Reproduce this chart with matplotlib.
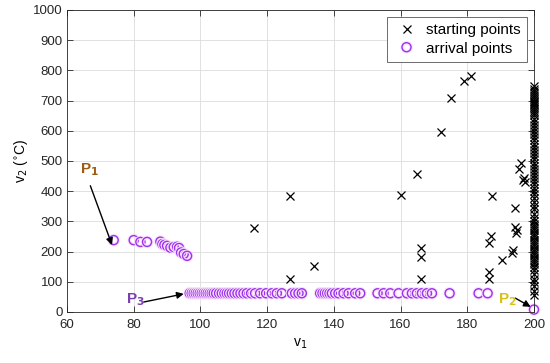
import numpy as np
import matplotlib.pyplot as plt
import matplotlib.patheffects as pe

plt.rcParams['font.family'] = ['Liberation Sans', 'DejaVu Sans']

# starting points (black x)
start_v1 = [116, 127, 127, 134, 160, 165, 166, 166, 166, 172, 175, 179, 181,
            186.5, 186.5, 186.5, 187, 187.4, 190.5, 193.3, 193.6, 194.4, 194.4,
            194.6, 195, 195.4, 196, 196.6, 197, 197.4]
start_v2 = [277, 384, 108, 153, 387, 457, 213, 183, 108, 597, 710, 765, 781,
            108, 134, 230, 252, 384, 172, 194, 205, 345, 280, 262, 270, 472,
            492, 437, 444, 431]
# dense column of starting points at v1 = 200
col_v2 = [748, 740, 733, 725, 718, 712, 706, 700, 695, 690, 684, 678, 672, 666,
          660, 652, 640, 630, 620, 610, 600, 590, 580, 568, 556, 545, 535, 525,
          515, 505, 495, 485, 475, 465, 455, 445, 435, 425, 412, 400, 390, 378,
          365, 352, 340, 325, 312, 300, 292, 285, 278, 270, 262, 255, 248, 240,
          232, 225, 218, 210, 202, 195, 188, 180, 172, 165, 158, 150, 138, 125,
          110, 98, 85, 70, 55]

# arrival points (purple o)
arr_curve_v1 = [74, 80, 82, 84, 88, 88.6, 89.2, 90, 91, 92, 93, 93.6, 94.2, 95, 96]
arr_curve_v2 = [238, 238, 232, 232, 233, 225, 222, 219, 213, 215, 216, 212, 197, 192, 186]
arr_row_v1 = [96.8, 97.4, 98.0, 98.6, 99.2, 99.8, 100.4, 101.0, 101.6, 102.2, 102.8,
              103.4, 104.0, 104.7, 105.6, 106.4, 107.2, 107.9, 108.6, 109.4, 110.2,
              111.1, 112.0, 112.9, 113.9, 115.2, 116.4, 117.9, 119.7, 121.4, 122.9,
              124.4, 127.4, 128.4, 129.4, 130.4, 135.9, 136.6, 137.3, 138.0, 138.7,
              139.4, 140.4, 141.4, 142.9, 144.4, 146.4, 147.9, 153.1, 154.9, 156.9,
              159.4, 161.9, 163.4, 164.9, 166.4, 167.9, 169.4, 174.7, 183.4, 186.1]
arr_row_level = 62
p2 = (200, 8)

arr_v1 = arr_curve_v1 + arr_row_v1 + [p2[0]]
arr_v2 = arr_curve_v2 + [arr_row_level] * len(arr_row_v1) + [p2[1]]

fig = plt.figure(figsize=(5.5, 3.63), dpi=100)
ax = fig.add_axes([0.1218, 0.1405, 0.8491, 0.832])

ax.plot(start_v1 + [200] * len(col_v2), start_v2 + col_v2, 'x', color='black',
        ms=6, mew=0.9, label='starting points', zorder=3, clip_on=False)
halo = [pe.withStroke(linewidth=2.5, foreground='#fbe0fb')]
ax.plot(arr_v1, arr_v2, 'o', mfc='none', mec='#9933ee', ms=6.5, mew=1.0,
        path_effects=halo, label='arrival points', zorder=2, clip_on=False)

arrow = dict(arrowstyle='-|>', color='black', lw=1.0, mutation_scale=10,
             shrinkA=0, shrinkB=0)
ax.annotate('', xy=(73.5, 222), xytext=(67, 418), arrowprops=arrow, zorder=4)
ax.annotate('', xy=(95, 60), xytext=(83, 33), arrowprops=arrow, zorder=4)
ax.annotate('', xy=(199, 17), xytext=(194.4, 46), arrowprops=arrow, zorder=4)

lab = dict(fontsize=11, fontweight='bold', ha='center', va='center', zorder=5)
ax.text(66.8, 470, r'P$_\mathbf{1}$', color='#9c5a12', **lab)
ax.text(80.5, 40, r'P$_\mathbf{3}$', color='#7a40b0', **lab)
ax.text(192, 40, r'P$_\mathbf{2}$', color='#d6c21a', **lab)

ax.set_xlim(60, 200)
ax.set_ylim(0, 1000)
ax.set_xticks(np.arange(60, 201, 20))
ax.set_yticks(np.arange(0, 1001, 100))
ax.grid(True, color='#dcdcdc', lw=0.6)
ax.set_axisbelow(True)
ax.tick_params(direction='in', top=True, right=True, length=4, width=0.6,
               labelsize=9.5, colors='#262626', pad=3)
ax.tick_params(axis='x', pad=5)
for s in ax.spines.values():
    s.set_color('#262626')
    s.set_linewidth(0.6)

ax.set_xlabel(r'v$_1$', fontsize=10)
ax.set_ylabel(r'v$_2$ ($^{\circ}$C)', fontsize=10, labelpad=2)

leg = ax.legend(loc='upper right', fontsize=11, fancybox=False, framealpha=1,
                edgecolor='#555555', borderpad=0.4, handletextpad=0.4,
                labelspacing=0.3, handlelength=1.8, borderaxespad=0.45)
leg.get_frame().set_linewidth(0.6)

fig.savefig('out.png', dpi=100)
